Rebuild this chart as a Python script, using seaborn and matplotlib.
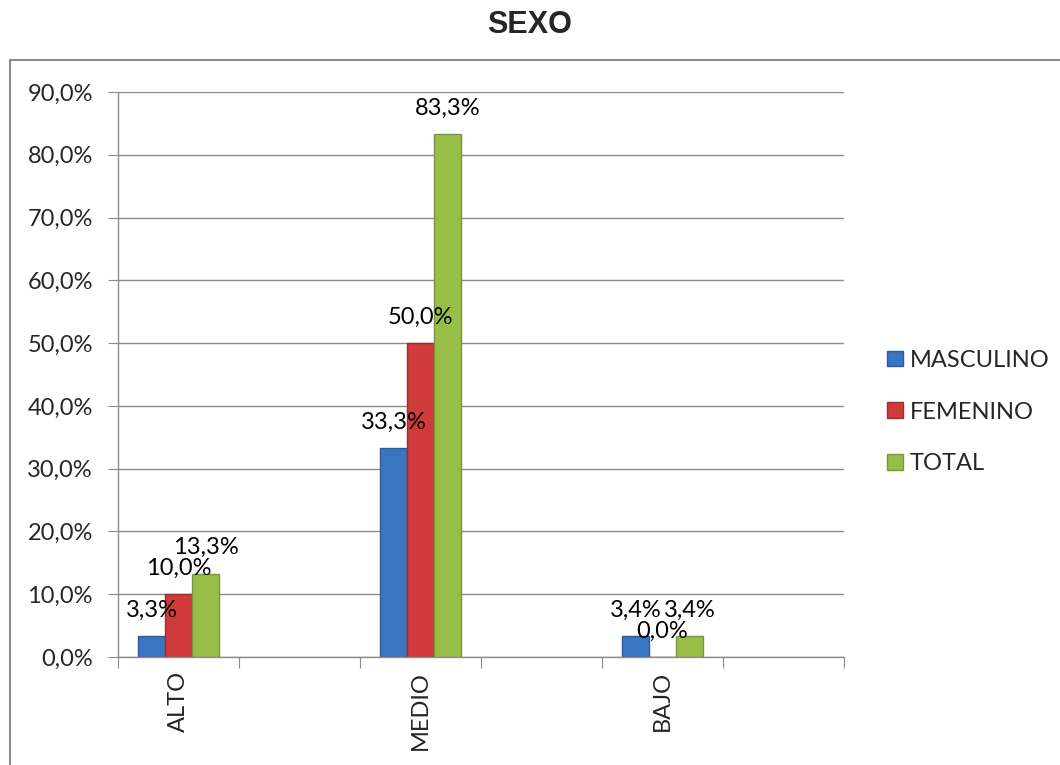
import matplotlib
matplotlib.use("Agg")
import matplotlib.pyplot as plt
import seaborn as sns
import pandas as pd
from matplotlib.lines import Line2D

categories = ["ALTO", "MEDIO", "BAJO"]
series = ["MASCULINO", "FEMENINO", "TOTAL"]
masculino = [3.3, 33.3, 3.4]
femenino = [10.0, 50.0, 0.0]
total = [13.3, 83.3, 3.4]
yticks = [0, 10, 20, 30, 40, 50, 60, 70, 80, 90]
colors = ["#3A76C0", "#CE3B3A", "#98BE48"]
edges = ["#2B5C99", "#9E2C2B", "#76963A"]

rows = []
for name, vals in zip(series, [masculino, femenino, total]):
    for c, v in zip(categories, vals):
        rows.append({"nivel": c, "sexo": name, "valor": v})
df = pd.DataFrame(rows)

# Excel layout: each category followed by an empty slot
slot_order = []
for i, c in enumerate(categories):
    slot_order += [c, " " * (i + 1)]

sns.set_style("white")
plt.rcParams["font.family"] = ["Lato", "DejaVu Sans"]

W, H = 1060, 765
fig = plt.figure(figsize=(W / 100, H / 100), dpi=100)
ax = fig.add_axes([118 / W, 1 - 657 / H, (844 - 118) / W, (657 - 92) / H])

sns.barplot(data=df, x="nivel", y="valor", hue="sexo", order=slot_order,
            hue_order=series, palette=colors, width=0.67, saturation=1,
            edgecolor="none", ax=ax, legend=True)

for cont, ec in zip(ax.containers, edges):
    for b in cont:
        b.set_edgecolor(ec)
        b.set_linewidth(1)
    labels = [("%.1f%%" % b.get_height()).replace(".", ",") for b in cont]
    ax.bar_label(cont, labels=labels, padding=11, fontsize=17, color="black")

n = len(slot_order)
ax.set_ylim(0, 90)
ax.set_xlim(-0.5, n - 0.5)
ax.set_yticks(yticks)
ax.set_yticklabels([("%.1f%%" % t).replace(".", ",") for t in yticks], fontsize=17)
ax.yaxis.grid(True, color="#8c8c8c", linewidth=1)
ax.set_axisbelow(True)

ax.set_xticks([i - 0.5 for i in range(n + 1)])
ax.set_xticklabels([])
ax.set_xticks([2 * i for i in range(len(categories))], minor=True)
ax.set_xticklabels(categories, minor=True, rotation=90, fontsize=17)
ax.tick_params(axis="x", which="major", direction="out", length=8, color="#8c8c8c", bottom=True)
ax.tick_params(axis="x", which="minor", length=0, pad=10)
ax.tick_params(axis="y", direction="out", length=7, color="#8c8c8c", left=True, pad=11)
ax.set_xlabel("")
ax.set_ylabel("")
for s in ["top", "right"]:
    ax.spines[s].set_visible(False)
for s in ["left", "bottom"]:
    ax.spines[s].set_color("#8c8c8c")
    ax.spines[s].set_linewidth(1)

handles = [plt.Rectangle((0, 0), 1, 1, facecolor=c, edgecolor=e) for c, e in zip(colors, edges)]
ax.legend(handles, series, loc="center left", bbox_to_anchor=(866 / W, 1 - 412 / H),
          bbox_transform=fig.transFigure, frameon=False, fontsize=17,
          handlelength=0.65, handleheight=0.65, handletextpad=0.3, labelspacing=1.3)

fig.text(530 / W, 1 - 25 / H, "SEXO", ha="center", va="center", fontsize=22,
         fontweight="bold", family="Liberation Sans")

fig.add_artist(Line2D([10 / W, 10 / W], [0, 1 - 60 / H], transform=fig.transFigure,
                      color="#8c8c8c", linewidth=1.5))
fig.add_artist(Line2D([10 / W, 1], [1 - 60 / H, 1 - 60 / H], transform=fig.transFigure,
                      color="#8c8c8c", linewidth=1.5))

fig.savefig("out.png", dpi=100)
